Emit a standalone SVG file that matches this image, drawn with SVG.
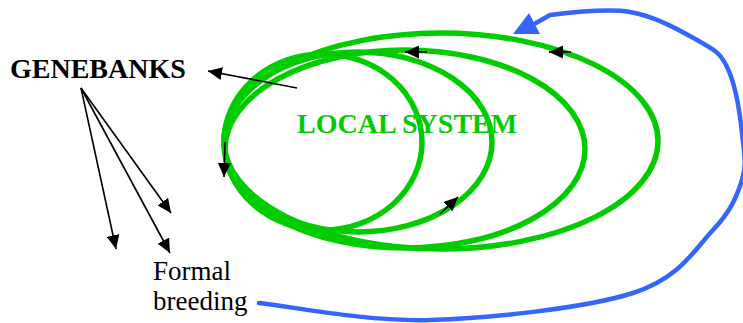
<svg xmlns="http://www.w3.org/2000/svg" width="743" height="323" viewBox="0 0 743 323">
  <style>
    .loop { fill: none; stroke: #00CC00; stroke-width: 5.5; }
    .arrow { fill: none; stroke: #000000; stroke-width: 1.6; marker-end: url(#head); }
    .flow { fill: none; stroke: #3366FF; stroke-width: 4.5; stroke-linecap: round; stroke-linejoin: round; }
    .label { font-family: "Liberation Serif", "Times New Roman", serif; }
  </style>
  <defs>
    <marker id="head" markerUnits="userSpaceOnUse" markerWidth="14" markerHeight="13" refX="14" refY="6.5" orient="auto">
      <path d="M0,0 L14,6.5 L0,13 z" fill="#000000"/>
    </marker>
  </defs>

  <rect width="743" height="323" fill="#ffffff"/>

  <!-- nested loops of the local seed system -->
  <g id="local-system">
    <ellipse class="loop" cx="441" cy="141" rx="217" ry="108"/>
    <ellipse class="loop" cx="405" cy="149" rx="180" ry="99"/>
    <ellipse class="loop" cx="358" cy="142" rx="134" ry="90"/>
    <ellipse class="loop" cx="323" cy="142" rx="99" ry="88"/>
    <text class="label" x="297" y="133" font-size="28" font-weight="bold" fill="#00CC00">LOCAL SYSTEM</text>
  </g>

  <g id="genebanks">
    <text class="label" x="10" y="78" font-size="28" font-weight="bold" fill="#000000">GENEBANKS</text>
  </g>

  <g id="formal-breeding">
    <text class="label" x="153" y="280" font-size="27" fill="#000000">Formal</text>
    <text class="label" x="153" y="310" font-size="27" fill="#000000">breeding</text>
  </g>

  <g id="connectors">
    <!-- direction marks on the loops -->
    <path class="arrow" d="M427,52 L405,52"/>
    <path class="arrow" d="M571,52 L549,52"/>
    <path class="arrow" d="M440,214 L458,197"/>
    <path class="arrow" d="M225,142 L224,177"/>
    <!-- local system to genebanks -->
    <path class="arrow" d="M297,88 L208,71"/>
    <!-- genebanks fan-out -->
    <path class="arrow" d="M81,88 L116,249"/>
    <path class="arrow" d="M81,88 L170,253"/>
    <path class="arrow" d="M81,88 L171,213"/>
    <!-- formal breeding feeding back into the local system -->
    <path class="flow" d="M259,303 C288,306 368,322 430,320 C492,318 586,308 633,293 C680,278 695,249 713,230 C731,211 737,196 742,180 C747,164 744,152 742,133 C740,114 735,83 727,67 C720,52 713,49 697,40 C681,31 655,16 630,12 C606,8 566,13 550,15 L536,23"/>
    <polygon points="513,34 540,34 529,13" fill="#3366FF"/>
  </g>
</svg>
